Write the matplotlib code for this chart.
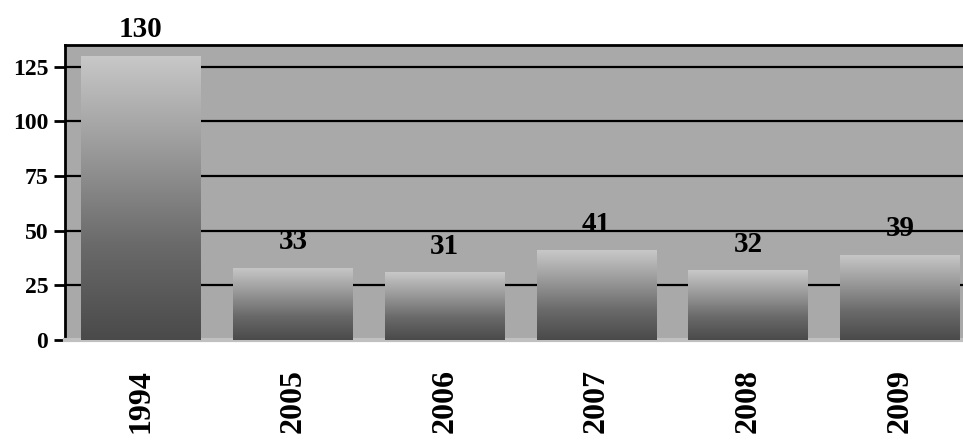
import matplotlib
matplotlib.use("Agg")
import matplotlib.pyplot as plt
import numpy as np

years = ["1994", "2005", "2006", "2007", "2008", "2009"]
values = [130, 33, 31, 41, 32, 39]
yticks = [0, 25, 50, 75, 100, 125]

plt.rcParams['font.family'] = ['Liberation Serif', 'DejaVu Serif']
plt.rcParams['font.weight'] = 'bold'

fig = plt.figure(figsize=(9.63, 4.41), dpi=100)
ax = fig.add_axes([0.0675, 0.229, 0.94, 0.669])
ax.set_facecolor('#a9a9a9')

x = np.arange(len(years))
ax.set_xlim(-0.5, 5.46)
ax.set_ylim(0, 135)

for yv in yticks[1:]:
    ax.axhline(yv, color='black', lw=1.6, zorder=1)

bars = ax.bar(x, values, width=0.79, color='none', edgecolor='none', zorder=2)
grad = np.linspace(0, 1, 256).reshape(-1, 1)
cmap = matplotlib.colors.LinearSegmentedColormap.from_list('g', ['#4a4a4a', '#6a6a6a', '#9a9a9a', '#c8c8c8'])
for b in bars:
    x0, w, h = b.get_x(), b.get_width(), b.get_height()
    im = ax.imshow(grad, extent=[x0, x0 + w, 0, h], origin='lower', cmap=cmap,
                   aspect='auto', zorder=3)
    im.set_clip_path(b)

for xi, v in zip(x, values):
    ax.annotate(str(v), (xi, v), xytext=(0, 9), textcoords='offset points',
                ha='center', va='bottom', fontsize=21, fontweight='bold',
                annotation_clip=False, zorder=5)

ax.set_xticks(x)
ax.set_xticklabels(years, rotation=90, fontsize=23, fontweight='bold')
ax.tick_params(axis='x', length=0, pad=21)
ax.set_yticks(yticks)
ax.set_yticklabels([str(t) for t in yticks], fontsize=17, fontweight='bold')
ax.tick_params(axis='y', length=8, width=2, direction='out', pad=4)

for s in ['left', 'top']:
    ax.spines[s].set_linewidth(2)
    ax.spines[s].set_color('black')
ax.spines['right'].set_visible(False)
ax.spines['bottom'].set_color('#c0c0c0')
ax.spines['bottom'].set_linewidth(3)

fig.savefig('out.png', dpi=100)
